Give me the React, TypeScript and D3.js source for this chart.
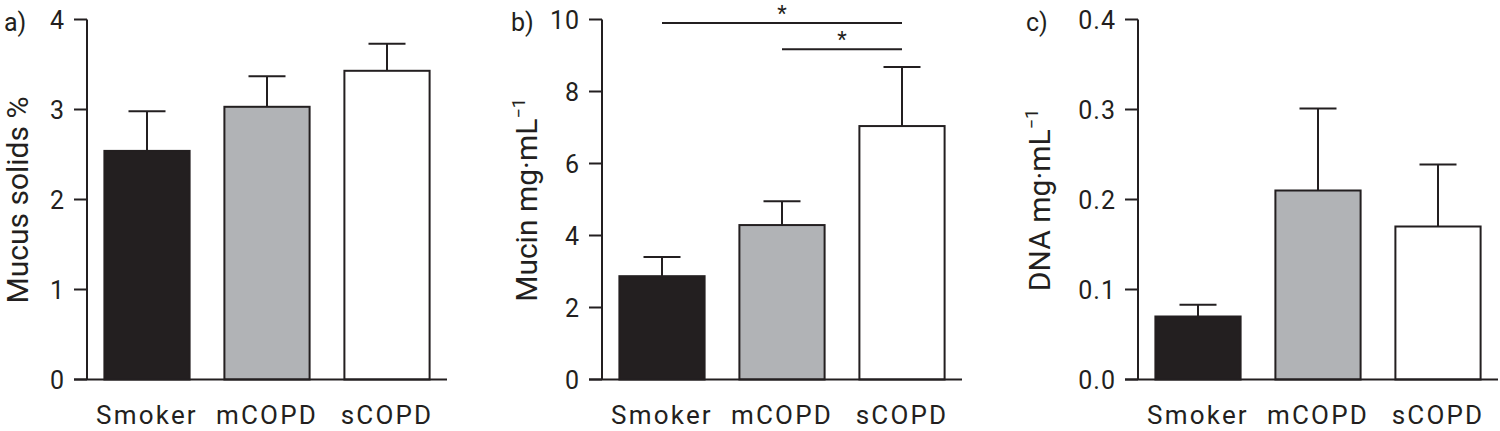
import React from 'react';
import * as d3 from 'd3';

const categories = ['Smoker', 'mCOPD', 'sCOPD'];
const barColors = ['#231f20', '#b1b3b6', '#ffffff'];

// a) mucus solids %
const solidsMean = [2.54, 3.03, 3.43];
const solidsErr = [0.44, 0.34, 0.3];
const solidsTicks = [0, 1, 2, 3, 4];

// b) mucin mg/mL
const mucinMean = [2.87, 4.29, 7.04];
const mucinErr = [0.53, 0.66, 1.64];
const mucinTicks = [0, 2, 4, 6, 8, 10];
const mucinSig = [
  { from: 'Smoker', to: 'sCOPD', level: 0 },
  { from: 'mCOPD', to: 'sCOPD', level: 1 },
];

// c) DNA mg/mL
const dnaMean = [0.07, 0.21, 0.17];
const dnaErr = [0.013, 0.091, 0.069];
const dnaTicks = [0, 0.1, 0.2, 0.3, 0.4];

const ink = '#231f20';
const font = 'Roboto, "DejaVu Sans", sans-serif';
const top = 19.5;
const bottom = 379.5;
const plotW = 360;

type Sig = { from: string; to: string; level: number };

const Panel = ({
  axisX,
  letter,
  letterX,
  title,
  titleX,
  ticks,
  fmt,
  mean,
  err,
  sig = [],
}: {
  axisX: number;
  letter: string;
  letterX: number;
  title: React.ReactNode;
  titleX: number;
  ticks: number[];
  fmt: (d: number) => string;
  mean: number[];
  err: number[];
  sig?: Sig[];
}) => {
  const y = d3
    .scaleLinear()
    .domain([0, ticks[ticks.length - 1]])
    .range([bottom, top]);
  const x = d3
    .scaleBand()
    .domain(categories)
    .range([axisX, axisX + plotW])
    .paddingInner(0.29)
    .paddingOuter(0.145);
  const bw = x.bandwidth();
  const cap = 37;

  return (
    <g>
      <text x={letterX} y={31} fontSize={25} fill={ink} fontFamily={font}>
        {letter}
      </text>
      <text
        transform={`translate(${titleX},200) rotate(-90)`}
        textAnchor="middle"
        fontSize={30}
        fill={ink}
        fontFamily={font}
      >
        {title}
      </text>

      {categories.map((c, i) => {
        const cx = (x(c) as number) + bw / 2;
        return (
          <g key={c}>
            <line
              x1={cx}
              x2={cx}
              y1={y(mean[i])}
              y2={y(mean[i] + err[i])}
              stroke={ink}
              strokeWidth={2}
            />
            <line
              x1={cx - cap / 2}
              x2={cx + cap / 2}
              y1={y(mean[i] + err[i])}
              y2={y(mean[i] + err[i])}
              stroke={ink}
              strokeWidth={2}
            />
            <rect
              x={x(c)}
              y={y(mean[i])}
              width={bw}
              height={bottom - y(mean[i])}
              fill={barColors[i]}
              stroke={ink}
              strokeWidth={2}
            />
            <text
              x={cx}
              y={424}
              textAnchor="middle"
              fontSize={26}
              letterSpacing={2.2}
              fill={ink}
              fontFamily={font}
            >
              {c}
            </text>
          </g>
        );
      })}

      {/* axes */}
      <line x1={axisX} x2={axisX} y1={top} y2={bottom} stroke={ink} strokeWidth={2} />
      <line x1={axisX - 13} x2={axisX + plotW} y1={bottom} y2={bottom} stroke={ink} strokeWidth={2} />
      {ticks.map((t) => (
        <g key={t}>
          <line x1={axisX - 13} x2={axisX} y1={y(t)} y2={y(t)} stroke={ink} strokeWidth={2} />
          <text
            x={axisX - 22}
            y={y(t)}
            dy="0.36em"
            textAnchor="end"
            fontSize={25}
            letterSpacing={1}
            fill={ink}
            fontFamily={font}
          >
            {fmt(t)}
          </text>
        </g>
      ))}

      {sig.map((s) => {
        const x1 = (x(s.from) as number) + bw / 2;
        const x2 = (x(s.to) as number) + bw / 2;
        const ly = 23 + s.level * 26.3;
        return (
          <g key={s.from + s.to}>
            <line x1={x1} x2={x2} y1={ly} y2={ly} stroke={ink} strokeWidth={2} />
            <text
              x={(x1 + x2) / 2}
              y={ly - 2}
              textAnchor="middle"
              fontSize={22}
              fill={ink}
              fontFamily={font}
            >
              *
            </text>
          </g>
        );
      })}
    </g>
  );
};

const App = () => (
  <svg
    width={1500}
    height={431}
    style={{ position: 'absolute', left: 0, top: 0, background: '#fff' }}
  >
    <Panel
      axisX={87}
      letter="a)"
      letterX={4}
      title="Mucus solids %"
      titleX={28}
      ticks={solidsTicks}
      fmt={d3.format('d')}
      mean={solidsMean}
      err={solidsErr}
    />
    <Panel
      axisX={602}
      letter="b)"
      letterX={511}
      title={
        <>
          Mucin mg·mL
          <tspan fontSize={18} dy={-12}>
            −1
          </tspan>
        </>
      }
      titleX={537}
      ticks={mucinTicks}
      fmt={d3.format('d')}
      mean={mucinMean}
      err={mucinErr}
      sig={mucinSig}
    />
    <Panel
      axisX={1138}
      letter="c)"
      letterX={1026}
      title={
        <>
          DNA mg·mL
          <tspan fontSize={18} dy={-12}>
            −1
          </tspan>
        </>
      }
      titleX={1050}
      ticks={dnaTicks}
      fmt={d3.format('.1f')}
      mean={dnaMean}
      err={dnaErr}
    />
  </svg>
);

export default App;
